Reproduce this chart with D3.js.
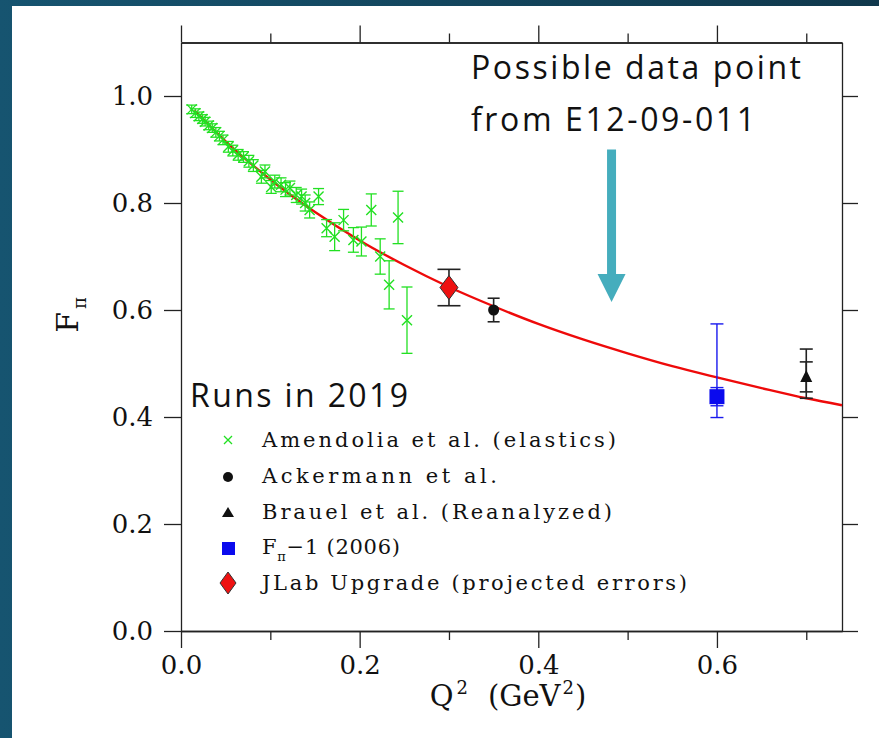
<!DOCTYPE html>
<html>
<head>
<meta charset="utf-8">
<script src="https://cdn.jsdelivr.net/npm/d3@7"></script>
<style>
body { margin: 0; background: #fff; }
</style>
</head>
<body>
<script>
// Amendolia et al. (elastics): [Q2, F, error]
const amendolia = [
  [0.012, 0.975, 0.008], [0.016, 0.968, 0.008], [0.020, 0.962, 0.008],
  [0.024, 0.957, 0.008], [0.027, 0.952, 0.008], [0.031, 0.945, 0.008],
  [0.035, 0.940, 0.008], [0.039, 0.932, 0.009], [0.043, 0.925, 0.009],
  [0.047, 0.918, 0.009], [0.053, 0.905, 0.010], [0.058, 0.898, 0.010],
  [0.064, 0.890, 0.010], [0.070, 0.886, 0.010], [0.076, 0.878, 0.011],
  [0.081, 0.870, 0.011], [0.090, 0.849, 0.012], [0.094, 0.859, 0.012],
  [0.101, 0.830, 0.012], [0.105, 0.840, 0.012], [0.112, 0.834, 0.013],
  [0.117, 0.825, 0.013], [0.122, 0.828, 0.013], [0.129, 0.815, 0.014],
  [0.135, 0.812, 0.014], [0.139, 0.800, 0.015], [0.144, 0.787, 0.015],
  [0.154, 0.812, 0.015], [0.163, 0.753, 0.016], [0.172, 0.737, 0.026],
  [0.182, 0.768, 0.020], [0.193, 0.731, 0.023], [0.202, 0.728, 0.027],
  [0.213, 0.787, 0.030], [0.223, 0.700, 0.033], [0.233, 0.647, 0.045],
  [0.243, 0.773, 0.049], [0.253, 0.581, 0.062]
];
// Ackermann et al.: [Q2, F, error]
const ackermann = [[0.35, 0.600, 0.022]];
// Brauel et al. (reanalyzed): [Q2, F, stat err, total up, total down]
const brauel = [[0.70, 0.475, 0.028, 0.052, 0.040]];
// F_pi-1 (2006): [Q2, F, stat err, total up, total down]
const fpi1 = [[0.60, 0.438, 0.017, 0.136, 0.039]];
// JLab upgrade projection: [Q2, F, error]
const jlab = [[0.30, 0.642, 0.034]];

// red curve
const curveQ2 = [0.015, 0.05, 0.1, 0.15, 0.2, 0.25, 0.3, 0.35, 0.4, 0.45, 0.5, 0.55, 0.6, 0.65, 0.7, 0.74];
const curveF  = [0.973, 0.915, 0.844, 0.783, 0.730, 0.684, 0.643, 0.607, 0.574, 0.545, 0.519, 0.495, 0.474, 0.454, 0.435, 0.422];

const xMajor = [0, 0.2, 0.4, 0.6];
const xMinor = [0.1, 0.3, 0.5, 0.7];
const yTicks = [0, 0.2, 0.4, 0.6, 0.8, 1.0];

const legendLabels = ["Amendolia et al. (elastics)", "Ackermann et al.", "Brauel et al. (Reanalyzed)", "F|π|−1 (2006)", "JLab Upgrade (projected errors)"];
const legendWidths = [354, 235, 350, 138, 425];

const W = 879, H = 738;
const serif = "'DejaVu Serif', 'Liberation Serif', serif";
const sans = "'Open Sans', Lato, sans-serif";

const svg = d3.select('body')
      .append('svg')
      .attr('width', W)
      .attr('height', H);

// slide background
const grad = svg.append('defs').append('linearGradient')
      .attr('id', 'bg').attr('x1', 0).attr('y1', 0).attr('x2', 1).attr('y2', 0);
grad.append('stop').attr('offset', 0).attr('stop-color', '#165470');
grad.append('stop').attr('offset', 1).attr('stop-color', '#10384c');
svg.append('rect').attr('width', W).attr('height', H).attr('fill', 'url(#bg)');
svg.append('rect').attr('x', 12).attr('y', 6).attr('width', W - 12).attr('height', H - 6).attr('fill', '#fff');

const x = d3.scaleLinear().domain([0, 0.74]).range([181, 842]);
const y = d3.scaleLinear().domain([0, 1.1]).range([631, 42.5]);

const fmt = d3.format('.1f');

function styleAxis(g) {
  g.selectAll('path, line').attr('stroke', '#222').attr('stroke-width', 1.3);
  g.selectAll('text')
    .attr('font-family', serif)
    .attr('font-size', 26)
    .attr('fill', '#111');
}

// bottom axis
svg.append('g').attr('transform', `translate(0,${y(0)})`)
  .call(d3.axisBottom(x).tickValues(xMajor).tickFormat(fmt).tickSize(17).tickSizeOuter(0).tickPadding(8))
  .call(styleAxis);
svg.append('g').attr('transform', `translate(0,${y(0)})`)
  .call(d3.axisBottom(x).tickValues(xMinor).tickFormat('').tickSize(9).tickSizeOuter(0))
  .call(styleAxis);
// top axis
svg.append('g').attr('transform', `translate(0,${y(1.1)})`)
  .call(d3.axisTop(x).tickValues(xMajor).tickFormat('').tickSize(17).tickSizeOuter(0))
  .call(styleAxis);
svg.append('g').attr('transform', `translate(0,${y(1.1)})`)
  .call(d3.axisTop(x).tickValues(xMinor).tickFormat('').tickSize(9).tickSizeOuter(0))
  .call(styleAxis);
// left axis
svg.append('g').attr('transform', `translate(${x(0)},0)`)
  .call(d3.axisLeft(y).tickValues(yTicks).tickFormat(fmt).tickSize(17).tickSizeOuter(0).tickPadding(11))
  .call(styleAxis);
// right axis
svg.append('g').attr('transform', `translate(${x(0.74)},0)`)
  .call(d3.axisRight(y).tickValues(yTicks).tickFormat('').tickSize(16).tickSizeOuter(0))
  .call(styleAxis);

// axis titles
const xt = svg.append('text')
  .attr('x', 508).attr('y', 706)
  .attr('text-anchor', 'middle')
  .attr('font-family', serif).attr('font-size', 29).attr('fill', '#111');
xt.append('tspan').text('Q');
xt.append('tspan').attr('font-size', 18).attr('dx', 3).attr('dy', -12).text('2');
xt.append('tspan').attr('dx', 20).attr('dy', 12).text('(GeV');
xt.append('tspan').attr('font-size', 18).attr('dx', 2).attr('dy', -12).text('2');
xt.append('tspan').attr('dx', 1).attr('dy', 12).text(')');

const yt = svg.append('text')
  .attr('transform', 'translate(78,315) rotate(-90)')
  .attr('text-anchor', 'middle')
  .attr('font-family', serif).attr('font-size', 30).attr('fill', '#111');
yt.append('tspan').text('F');
yt.append('tspan').attr('font-size', 18).attr('dx', 3).attr('dy', 8).text('π');

// fit curve
const curvePts = curveQ2.map((q, i) => [q, curveF[i]]);
svg.append('path')
  .attr('d', d3.line().x(d => x(d[0])).y(d => y(d[1])).curve(d3.curveMonotoneX)(curvePts))
  .attr('fill', 'none')
  .attr('stroke', '#ee0a0a')
  .attr('stroke-width', 2.4);

function errBar(q, lo, hi, capW, color, sw) {
  const g = svg.append('g').attr('stroke', color).attr('stroke-width', sw || 1.4);
  g.append('line').attr('x1', x(q)).attr('x2', x(q)).attr('y1', y(lo)).attr('y2', y(hi));
  [lo, hi].forEach(v => g.append('line')
    .attr('x1', x(q) - capW / 2).attr('x2', x(q) + capW / 2)
    .attr('y1', y(v)).attr('y2', y(v)));
}

// green crosses
const green = '#22e022';
amendolia.forEach(d => errBar(d[0], d[1] - d[2], d[1] + d[2], 11, green, 1.3));
svg.append('g').selectAll('path').data(amendolia).join('path')
  .attr('d', d => `M${x(d[0]) - 5},${y(d[1]) - 5}L${x(d[0]) + 5},${y(d[1]) + 5}M${x(d[0]) - 5},${y(d[1]) + 5}L${x(d[0]) + 5},${y(d[1]) - 5}`)
  .attr('stroke', green).attr('stroke-width', 1.4).attr('fill', 'none');

// JLab projection
jlab.forEach(d => errBar(d[0], d[1] - d[2], d[1] + d[2], 23, '#222', 1.6));
svg.append('g').selectAll('path').data(jlab).join('path')
  .attr('d', d => `M${x(d[0])},${y(d[1]) - 12}L${x(d[0]) + 9},${y(d[1])}L${x(d[0])},${y(d[1]) + 12}L${x(d[0]) - 9},${y(d[1])}Z`)
  .attr('fill', '#ee1111').attr('stroke', '#333').attr('stroke-width', 1);

// Ackermann
ackermann.forEach(d => errBar(d[0], d[1] - d[2], d[1] + d[2], 12, '#222', 1.6));
svg.append('g').selectAll('circle').data(ackermann).join('circle')
  .attr('cx', d => x(d[0])).attr('cy', d => y(d[1])).attr('r', 5.5).attr('fill', '#111');

// F_pi-1
fpi1.forEach(d => {
  errBar(d[0], d[1] - d[4], d[1] + d[3], 13, '#1a1aee', 1.4);
  errBar(d[0], d[1] - d[2], d[1] + d[2], 13, '#1a1aee', 1.4);
});
svg.append('g').selectAll('rect').data(fpi1).join('rect')
  .attr('x', d => x(d[0]) - 7.5).attr('y', d => y(d[1]) - 7.5)
  .attr('width', 15).attr('height', 15).attr('fill', '#0a0aee');

// Brauel
brauel.forEach(d => {
  errBar(d[0], d[1] - d[4], d[1] + d[3], 13, '#222', 1.6);
  errBar(d[0], d[1] - d[2], d[1] + d[2], 13, '#222', 1.6);
});
svg.append('g').selectAll('path').data(brauel).join('path')
  .attr('d', d => `M${x(d[0])},${y(d[1]) - 7}L${x(d[0]) + 6},${y(d[1]) + 5}L${x(d[0]) - 6},${y(d[1]) + 5}Z`)
  .attr('fill', '#111');

// legend
const legY = [447, 483, 519, 554, 590];
const leg = svg.append('g');
legendLabels.forEach((lab, i) => {
  const t = leg.append('text')
    .attr('x', 262).attr('y', legY[i])
    .attr('font-family', serif).attr('font-size', 21).attr('fill', '#111')
    .attr('textLength', legendWidths[i]).attr('lengthAdjust', 'spacing');
  const parts = lab.split('|');
  if (parts.length === 1) {
    t.text(lab);
  } else {
    t.append('tspan').text(parts[0]);
    t.append('tspan').attr('font-size', 13).attr('dy', 7).text(parts[1]);
    t.append('tspan').attr('dy', -7).text(parts[2]);
  }
});
const sx = 228;
leg.append('path').attr('d', `M${sx - 4},${legY[0] - 11}l8,8m0,-8l-8,8`).attr('stroke', green).attr('stroke-width', 1.3);
leg.append('circle').attr('cx', sx).attr('cy', legY[1] - 6).attr('r', 5).attr('fill', '#111');
leg.append('path').attr('d', `M${sx},${legY[2] - 12}l6,10h-12z`).attr('fill', '#111');
leg.append('rect').attr('x', sx - 6).attr('y', legY[3] - 12).attr('width', 13).attr('height', 13).attr('fill', '#0a0aee');
leg.append('path').attr('d', `M${sx},${legY[4] - 18}l8,11l-8,11l-8,-11z`).attr('fill', '#ee1111').attr('stroke', '#333').attr('stroke-width', 1);

// annotations
svg.append('text').attr('x', 190).attr('y', 407)
  .attr('font-family', sans).attr('font-size', 32).attr('fill', '#111')
  .attr('textLength', 218).attr('lengthAdjust', 'spacing')
  .text('Runs in 2019');
svg.append('text').attr('x', 471).attr('y', 79)
  .attr('font-family', sans).attr('font-size', 32).attr('fill', '#111')
  .attr('textLength', 330).attr('lengthAdjust', 'spacing')
  .text('Possible data point');
svg.append('text').attr('x', 471).attr('y', 131)
  .attr('font-family', sans).attr('font-size', 32).attr('fill', '#111')
  .attr('textLength', 284).attr('lengthAdjust', 'spacing')
  .text('from E12-09-011');

// arrow pointing at the projected region
const ax = x(0.482), aTop = y(0.9), aTip = y(0.615);
svg.append('path')
  .attr('d', `M${ax - 4.5},${aTop}H${ax + 4.5}V${aTip - 28}H${ax + 14}L${ax},${aTip}L${ax - 14},${aTip - 28}H${ax - 4.5}Z`)
  .attr('fill', '#45adbd');
</script>
</body>
</html>
